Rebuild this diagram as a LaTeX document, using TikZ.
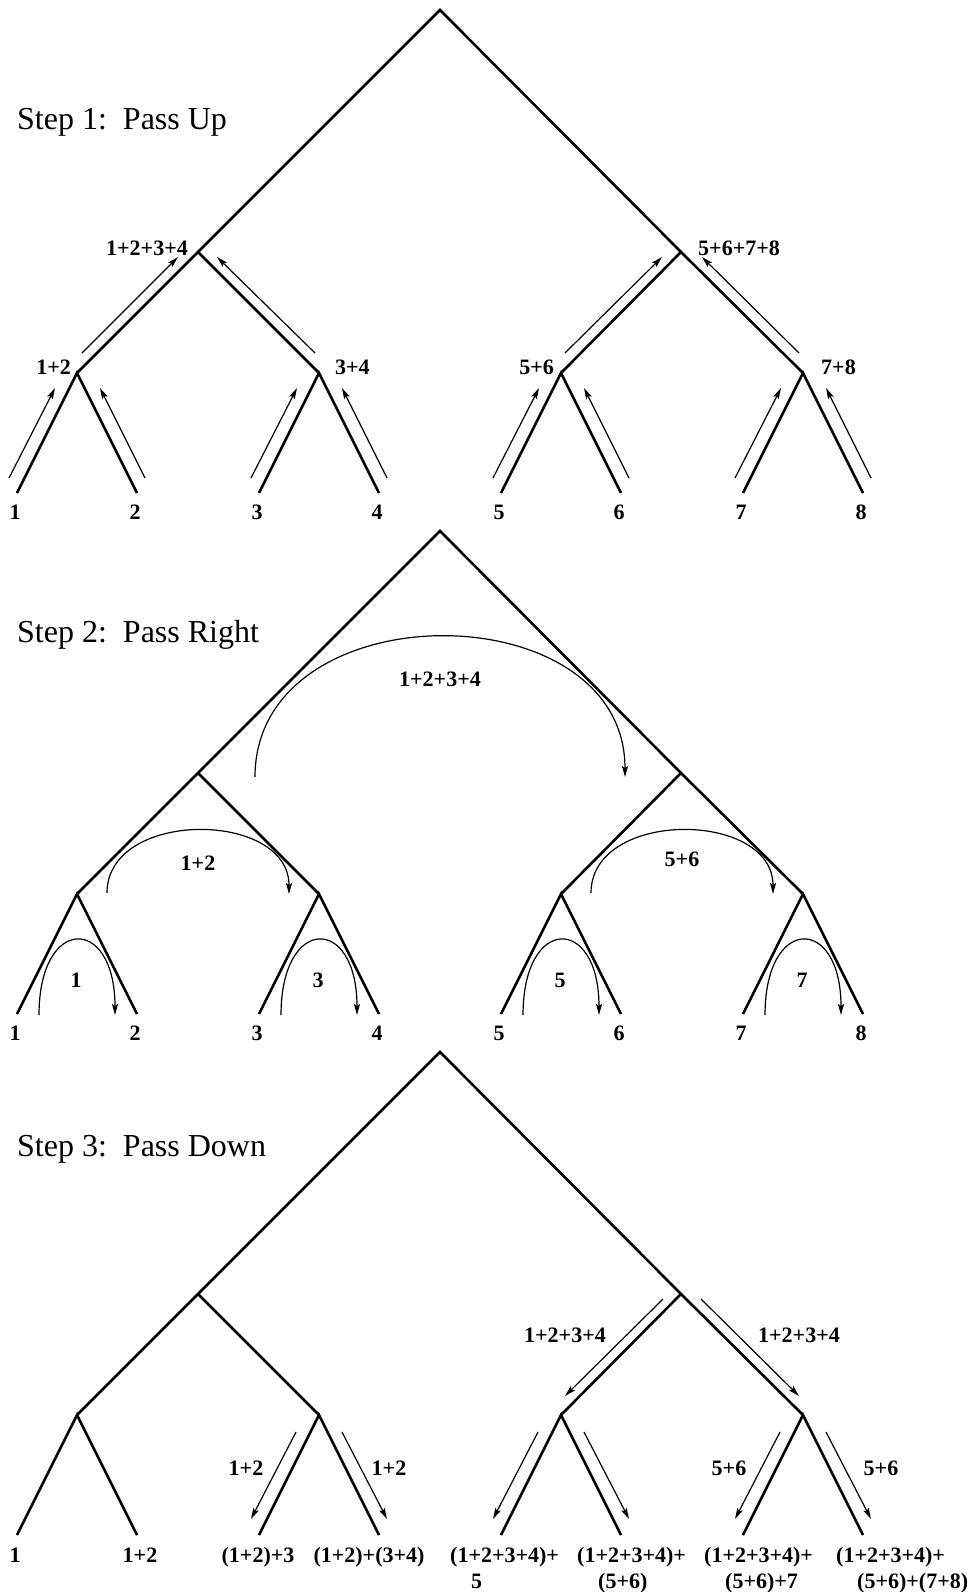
\documentclass[tikz,border=0pt]{standalone}
\usepackage{fontspec}
\setmainfont{Liberation Serif}
\usetikzlibrary{arrows.meta}

\begin{document}
\begin{tikzpicture}[
    x=1pt, y=-1pt,
    branch/.style={line width=2.6pt},
    pass/.style={-{Stealth[length=11pt, width=6pt, inset=2pt]}, line width=1.2pt},
    val/.style={font=\fontsize{22}{26}\selectfont\bfseries, inner sep=0pt},
    steplbl/.style={font=\fontsize{32}{38}\selectfont, inner sep=0pt, anchor=base west}
]
\useasboundingbox (0,0) rectangle (976,1592);

% the three trees, one below the other
\foreach \tr/\dy in {1/0, 2/521, 3/1042} {
    \coordinate (root\tr) at (440,10+\dy);
    \coordinate (a\tr) at (198,252+\dy);
    \coordinate (b\tr) at (681,252+\dy);
    \foreach \na/\x in {c/77, d/319, e/561, f/803}
        \coordinate (\na\tr) at (\x,373+\dy);
    \foreach \i/\x in {1/17, 2/137, 3/259, 4/379, 5/501, 6/621, 7/743, 8/863}
        \coordinate (lf\tr\i) at (\x,493+\dy);
    \draw[branch] (a\tr) -- (root\tr) -- (b\tr)
        (c\tr) -- (a\tr) -- (d\tr)  (e\tr) -- (b\tr) -- (f\tr)
        (lf\tr1) -- (c\tr) -- (lf\tr2)  (lf\tr3) -- (d\tr) -- (lf\tr4)
        (lf\tr5) -- (e\tr) -- (lf\tr6)  (lf\tr7) -- (f\tr) -- (lf\tr8);
}

% Step 1: pass up
\node[steplbl] (step1) at (17,129) {Step 1:\ \ Pass Up};
\foreach \i in {1,...,8}
    \node[val, anchor=base] (up\i) at ([shift={(-2,26)}]lf1\i) {\i};
\node[val, anchor=east] (upa) at ([shift={(-10,-4)}]a1) {1+2+3+4};
\node[val, anchor=west] (upb) at ([shift={(17,-4)}]b1) {5+6+7+8};
\node[val, anchor=east] (upc) at ([shift={(-6,-6)}]c1) {1+2};
\node[val, anchor=west] (upd) at ([shift={(16,-6)}]d1) {3+4};
\node[val, anchor=east] (upe) at ([shift={(-7,-6)}]e1) {5+6};
\node[val, anchor=west] (upf) at ([shift={(18,-6)}]f1) {7+8};
\foreach \na/\lft/\rgt in {c/1/2, d/3/4, e/5/6, f/7/8} {
    \draw[pass] ([shift={(-8,-15)}]lf1\lft) -- ([shift={(-22,15)}]\na1);
    \draw[pass] ([shift={(8,-15)}]lf1\rgt) -- ([shift={(23,15)}]\na1);
}
\draw[pass] ([shift={(5,-20)}]c1) -- ([shift={(-20,5)}]a1);
\draw[pass] ([shift={(-4,-20)}]d1) -- ([shift={(19,5)}]a1);
\draw[pass] ([shift={(4,-20)}]e1) -- ([shift={(-19,5)}]b1);
\draw[pass] ([shift={(-4,-20)}]f1) -- ([shift={(21,5)}]b1);

% Step 2: pass right
\node[steplbl] (step2) at (17,642) {Step 2:\ \ Pass Right};
\foreach \i in {1,...,8}
    \node[val, anchor=base] (rt\i) at ([shift={(-2,26)}]lf2\i) {\i};
\draw[pass] ([shift={(57,4)}]a2) .. controls +(0,-187) and +(0,-187) .. ([shift={(-56,4)}]b2);
\node[val] (rtab) at ([shift={(0,148)}]root2) {1+2+3+4};
\draw[pass] ([shift={(30,-1)}]c2) .. controls +(0,-84) and +(0,-84) .. ([shift={(-30,0)}]d2);
\node[val] (rtcd) at ([shift={(0,90)}]a2) {1+2};
\draw[pass] ([shift={(30,-1)}]e2) .. controls +(0,-84) and +(0,-84) .. ([shift={(-30,0)}]f2);
\node[val] (rtef) at ([shift={(1,86)}]b2) {5+6};
\foreach \na/\lft/\rgt in {c/1/2, d/3/4, e/5/6, f/7/8} {
    \draw[pass] ([shift={(22,1)}]lf2\lft) .. controls +(0,-100) and +(0,-100) .. ([shift={(-22,1)}]lf2\rgt);
    \node[val] (rt\na) at ([shift={(-1,86)}]\na2) {\lft};
}

% Step 3: pass down
\node[steplbl] (step3) at (17,1156) {Step 3:\ \ Pass Down};
\draw[pass] ([shift={(-18,5)}]b3) -- ([shift={(4,-19)}]e3);
\draw[pass] ([shift={(20,5)}]b3) -- ([shift={(-4,-19)}]f3);
\node[val] (dnl) at ([shift={(-116,41)}]b3) {1+2+3+4};
\node[val] (dnr) at ([shift={(118,41)}]b3) {1+2+3+4};
\foreach \na/\lft/\rgt in {d/3/4, e/5/6, f/7/8} {
    \draw[pass] ([shift={(-23,17)}]\na3) -- ([shift={(-8,-16)}]lf3\lft);
    \draw[pass] ([shift={(23,17)}]\na3) -- ([shift={(8,-16)}]lf3\rgt);
}
\node[val] (dnd1) at ([shift={(-73,53)}]d3) {1+2};
\node[val] (dnd2) at ([shift={(70,53)}]d3) {1+2};
\node[val] (dnf1) at ([shift={(-74,53)}]f3) {5+6};
\node[val] (dnf2) at ([shift={(78,53)}]f3) {5+6};
\node[val, anchor=base] (dl1) at ([shift={(-2,27)}]lf31) {1};
\node[val, anchor=base] (dl2) at ([shift={(3,27)}]lf32) {1+2};
\node[val, anchor=base] (dl3) at ([shift={(-1,27)}]lf33) {(1+2)+3};
\node[val, anchor=base] (dl4) at ([shift={(-10,27)}]lf34) {(1+2)+(3+4)};
% two-line labels: base is the second line
\node[val, anchor=base west, align=left] (dl5) at ([shift={(-51,53)}]lf35) {(1+2+3+4)+\\\hspace*{21pt}5};
\node[val, anchor=base west, align=left] (dl6) at ([shift={(-44,53)}]lf36) {(1+2+3+4)+\\\hspace*{21pt}(5+6)};
\node[val, anchor=base west, align=left] (dl7) at ([shift={(-39,53)}]lf37) {(1+2+3+4)+\\\hspace*{21pt}(5+6)+7};
\node[val, anchor=base west, align=left] (dl8) at ([shift={(-27,53)}]lf38) {(1+2+3+4)+\\\hspace*{21pt}(5+6)+(7+8)};
\end{tikzpicture}
\end{document}
